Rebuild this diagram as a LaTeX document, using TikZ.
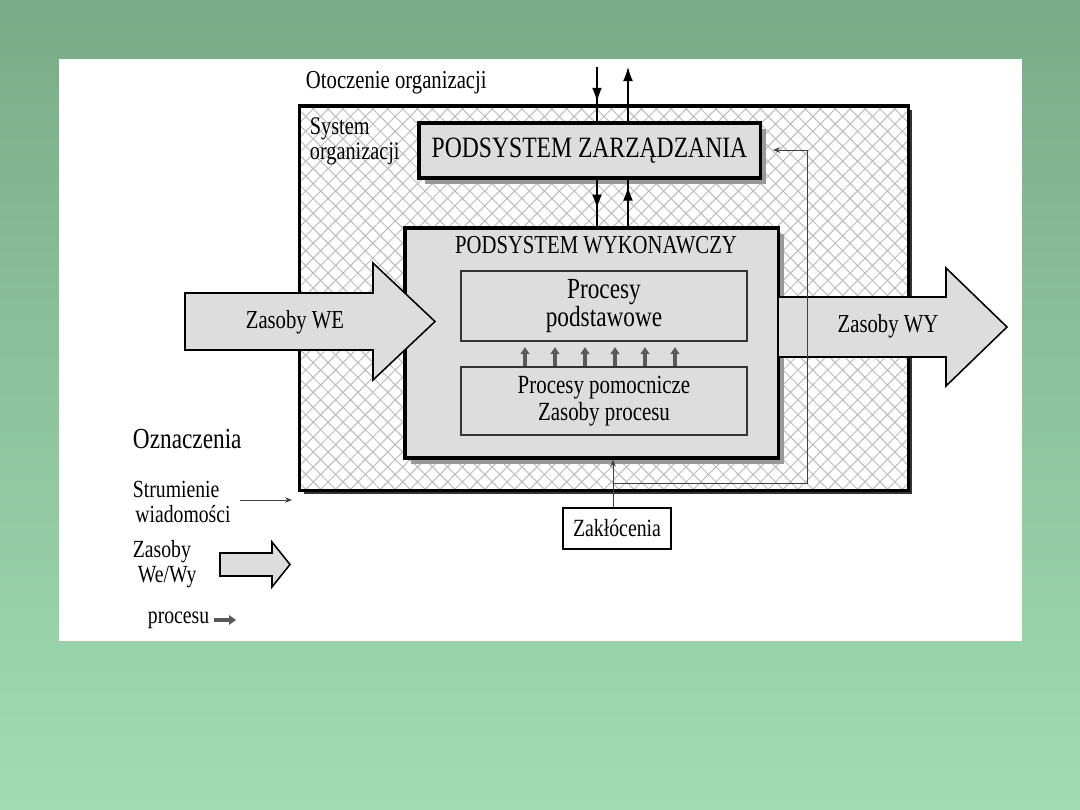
\documentclass[tikz,border=0pt]{standalone}
\usepackage{fontspec}
\setmainfont[FakeStretch=0.8]{Liberation Serif}
\usetikzlibrary{arrows.meta,patterns.meta,shadows,decorations.markings}
\definecolor{bgtop}{RGB}{122,171,136}
\definecolor{bgbot}{RGB}{160,221,178}
\definecolor{boxgray}{RGB}{221,221,221}
\definecolor{hatchgray}{RGB}{188,188,188}

\begin{document}
\begin{tikzpicture}[x=0.025cm,y=-0.025cm,
  every node/.style={font=\fontsize{18.4}{18.4}\selectfont},
  sysbox/.style={draw,line width=2.2pt,minimum width=15.2cm,minimum height=9.6cm,
    drop shadow={shadow xshift=3pt,shadow yshift=-3pt,opacity=1,fill=black!80},
    preaction={fill=white},pattern={Hatch[distance=7.5pt,angle=45,line width=0.7pt]},pattern color=hatchgray},
  subbox/.style={draw,line width=2.2pt,fill=boxgray,
    drop shadow={shadow xshift=4.5pt,shadow yshift=-4.5pt,opacity=1,fill=black!40}},
  procbox/.style={draw=black!80,line width=0.8pt,fill=boxgray,minimum width=7.15cm,align=center,
    font=\fontsize{18.6}{19.3}\selectfont},
  bigarrow/.style={draw,line width=1.1pt,fill=boxgray,line join=miter},
  ctrl/.style={draw,line width=0.9pt},
  midarrow/.style={postaction={decorate},decoration={markings,
    mark=at position #1 with {\arrow{Latex[length=10pt,width=7pt]}}}},
  msg/.style={draw=black!75,line width=0.6pt,-{Stealth[length=5pt,width=4pt]}},
  flow/.style={draw=black!65,line width=2.2pt,-{Triangle[length=5pt,width=6.5pt]}}
]
\useasboundingbox (0,0) rectangle (1080,810);
\shade[top color=bgtop,bottom color=bgbot] (0,0) rectangle (1080,810);
\fill[white] (59,59) rectangle (1022,641);

% system organizacji
\node[sysbox] (sys) at (604,298) {};
\node[subbox,minimum width=8.525cm,minimum height=1.375cm,font=\fontsize{21}{21}\selectfont] (zarz) at (589.5,150.5) {PODSYSTEM ZARZĄDZANIA};
\node[subbox,minimum width=9.325cm,minimum height=5.75cm] (wyk) at (591.5,343) {};
\node (wyktitle) at (596,245) {PODSYSTEM WYKONAWCZY};
\node[procbox,minimum height=1.75cm,font=\fontsize{20.7}{19.5}\selectfont] (podst) at (604,306) {Procesy\\podstawowe};
\node[procbox,minimum height=1.7cm] (pomoc) at (604,401) {Procesy pomocnicze\\Zasoby procesu};

\foreach \x in {525,555,...,675}
  \draw[flow,shorten >=4pt] (\x,0 |- pomoc.north) -- (\x,0 |- podst.south);

% zasoby
\draw[bigarrow] (185,293) -- (373,293) -- (373,263) -- (435,321.5) -- (373,380) -- (373,350) -- (185,350) -- cycle;
\draw[bigarrow] (778,297) -- (946,297) -- (946,268) -- (1007,327) -- (946,386) -- (946,357) -- (778,357) -- cycle;
\node (we) at (295,322) {Zasoby WE};
\node (wy) at (888,326) {Zasoby WY};

% strumienie
\coordinate (envin) at (597,67);
\coordinate (envout) at (628,67);
\draw[ctrl,midarrow=0.64] (envin) -- (envin |- zarz.north);
\draw[ctrl,-{Latex[length=10pt,width=7pt]}] (zarz.north -| envout) -- (envout);
\draw[ctrl,midarrow=0.62] (zarz.south -| envin) -- (envin |- wyk.north);
\draw[ctrl,midarrow=0.85] (wyk.north -| envout) -- (envout |- zarz.south);

\node[draw,line width=0.8pt,minimum width=2.7cm,minimum height=1.025cm,font=\fontsize{17.6}{18}\selectfont] (zakl) at (617,528.5) {Zakłócenia};
\coordinate (fbsplit) at (613,483);
\coordinate (fbcorner) at (807,483);
\coordinate (fbin) at (773,150);
\draw[msg] (zakl.north -| fbsplit) -- (fbsplit |- wyk.south);
\draw[msg] (fbsplit) -- (fbcorner) |- (fbin);

\node[anchor=west] (otocz) at (301,83) {Otoczenie organizacji};
\node[anchor=west,align=left,font=\fontsize{18}{17.8}\selectfont] (systxt) at (305,141) {System\\organizacji};

% oznaczenia
\node[anchor=base west,font=\fontsize{20.7}{20}\selectfont] (ozn) at (128,448) {Oznaczenia};
\node[anchor=west,align=left,font=\fontsize{17.5}{18}\selectfont] (strum) at (128,502) {Strumienie\\\hspace*{0.1em}wiadomości};
\coordinate (legA) at (240,500);
\coordinate (legB) at (292,500);
\draw[msg] (legA) -- (legB);
\node[anchor=west,align=left,font=\fontsize{17.5}{18}\selectfont] (zasleg) at (128,564) {Zasoby\\\hspace*{0.2em}We/Wy};
\draw[bigarrow] (220,553) -- (272,553) -- (272,542) -- (290,564.5) -- (272,587) -- (272,576) -- (220,576) -- cycle;
\node[anchor=west,font=\fontsize{17.5}{18}\selectfont] (procleg) at (143,620) {procesu};
\draw[flow] (procleg.east) -- ++(22,0);
\end{tikzpicture}
\end{document}
